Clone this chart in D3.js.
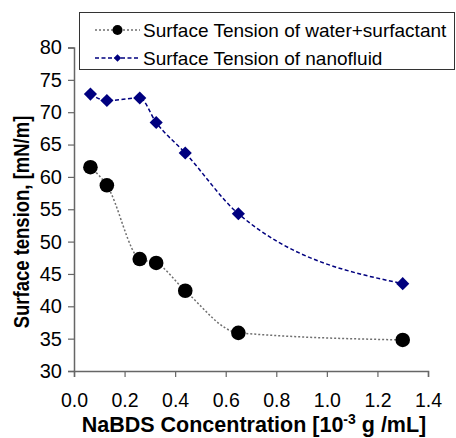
<!DOCTYPE html>
<html>
<head>
<meta charset="utf-8">
<script src="https://cdn.jsdelivr.net/npm/d3@7"></script>
<style>
  body { margin: 0; background: #fff; }
  svg text { font-family: "Liberation Sans", Arial, sans-serif; fill: #000; }
</style>
</head>
<body>
<div id="chart"></div>
<script>
const concentration = [0.065, 0.13, 0.26, 0.325, 0.44, 0.65, 1.3];
const tensionSurfactant = [61.5, 58.7, 47.3, 46.7, 42.4, 35.9, 34.8];
const tensionNanofluid = [72.8, 71.8, 72.2, 68.4, 63.7, 54.3, 43.5];
const seriesNames = ["Surface Tension of water+surfactant", "Surface Tension of nanofluid"];
const xTicks = [0, 0.2, 0.4, 0.6, 0.8, 1.0, 1.2, 1.4];
const yTicks = [30, 35, 40, 45, 50, 55, 60, 65, 70, 75, 80];

const fullWidth = 456, fullHeight = 438;
const margin = { top: 47.5, right: 28, bottom: 67, left: 74 };
const width = fullWidth - margin.left - margin.right;
const height = fullHeight - margin.top - margin.bottom;

const svg = d3.select("#chart")
  .append("svg")
  .attr("width", fullWidth)
  .attr("height", fullHeight);

const g = svg.append("g")
  .attr("transform", `translate(${margin.left},${margin.top})`);

const x = d3.scaleLinear().domain([0, 1.4]).range([0, width]);
const y = d3.scaleLinear().domain([30, 80]).range([height, 0]);

const axisColor = "#666";

// y axis
const yAxis = g.append("g")
  .call(d3.axisLeft(y).tickValues(yTicks).tickSize(6).tickPadding(6).tickFormat(d3.format("d")));
yAxis.selectAll("text").style("font-size", "20px");
yAxis.select(".domain").attr("stroke", axisColor).attr("stroke-width", 1.5);
yAxis.selectAll(".tick line").attr("stroke", axisColor).attr("stroke-width", 1.2);

// x axis
const xAxis = g.append("g")
  .attr("transform", `translate(0,${height})`)
  .call(d3.axisBottom(x).tickValues(xTicks).tickSize(6).tickPadding(16).tickFormat(d3.format(".1f")));
xAxis.selectAll("text").style("font-size", "19.5px");
xAxis.select(".domain").attr("stroke", axisColor).attr("stroke-width", 1.5);
xAxis.selectAll(".tick line").attr("stroke", axisColor).attr("stroke-width", 1.2);

const line = d3.line()
  .x(d => x(d[0]))
  .y(d => y(d[1]))
  .curve(d3.curveMonotoneX);

const surfData = concentration.map((c, i) => [c, tensionSurfactant[i]]);
const nanoData = concentration.map((c, i) => [c, tensionNanofluid[i]]);

const grey = "#6f6f6f";
const navy = "#00007f";

g.append("path")
  .datum(surfData)
  .attr("fill", "none")
  .attr("stroke", grey)
  .attr("stroke-width", 1.5)
  .attr("stroke-dasharray", "2,2")
  .attr("d", line);

g.append("path")
  .datum(nanoData)
  .attr("fill", "none")
  .attr("stroke", navy)
  .attr("stroke-width", 1.5)
  .attr("stroke-dasharray", "4,2.5")
  .attr("d", line);

g.selectAll("circle.pt")
  .data(surfData)
  .enter()
  .append("circle")
  .attr("class", "pt")
  .attr("cx", d => x(d[0]))
  .attr("cy", d => y(d[1]))
  .attr("r", 7.3)
  .attr("fill", "#000");

const diamond = d3.symbol().type(d3.symbolDiamond2).size(110);
g.selectAll("path.dm")
  .data(nanoData)
  .enter()
  .append("path")
  .attr("class", "dm")
  .attr("transform", d => `translate(${x(d[0])},${y(d[1])})`)
  .attr("d", diamond)
  .attr("fill", navy);

// axis titles
svg.append("text")
  .attr("x", 254)
  .attr("y", 432)
  .attr("text-anchor", "middle")
  .style("font-size", "21.5px")
  .style("font-weight", "bold")
  .html('NaBDS Concentration [10<tspan dy="-8" font-size="14px">-3</tspan><tspan dy="8"> g /mL]</tspan>');

svg.append("text")
  .attr("transform", "translate(29,222) scale(1.2,1) rotate(-90)")
  .attr("x", 0)
  .attr("y", 0)
  .attr("text-anchor", "middle")
  .style("font-size", "18.5px")
  .style("font-weight", "bold")
  .text("Surface tension, [mN/m]");

// legend
const legend = svg.append("g");
legend.append("rect")
  .attr("x", 79.5)
  .attr("y", 12.5)
  .attr("width", 375)
  .attr("height", 57)
  .attr("fill", "#fff")
  .attr("stroke", "#333")
  .attr("stroke-width", 1);

const legendRows = [
  { name: seriesNames[0], color: grey, dash: "2,2", y: 30, marker: "circle" },
  { name: seriesNames[1], color: navy, dash: "4,2.5", y: 58, marker: "diamond" }
];
legendRows.forEach(r => {
  legend.append("line")
    .attr("x1", 95).attr("x2", 140)
    .attr("y1", r.y).attr("y2", r.y)
    .attr("stroke", r.color)
    .attr("stroke-width", 1.5)
    .attr("stroke-dasharray", r.dash);
  if (r.marker === "circle") {
    legend.append("circle").attr("cx", 117.5).attr("cy", r.y).attr("r", 5).attr("fill", "#000");
  } else {
    legend.append("path")
      .attr("transform", `translate(117.5,${r.y})`)
      .attr("d", d3.symbol().type(d3.symbolDiamond2).size(36))
      .attr("fill", navy);
  }
  legend.append("text")
    .attr("x", 143)
    .attr("y", r.y + 7)
    .style("font-size", "19px")
    .text(r.name);
});
</script>
</body>
</html>
